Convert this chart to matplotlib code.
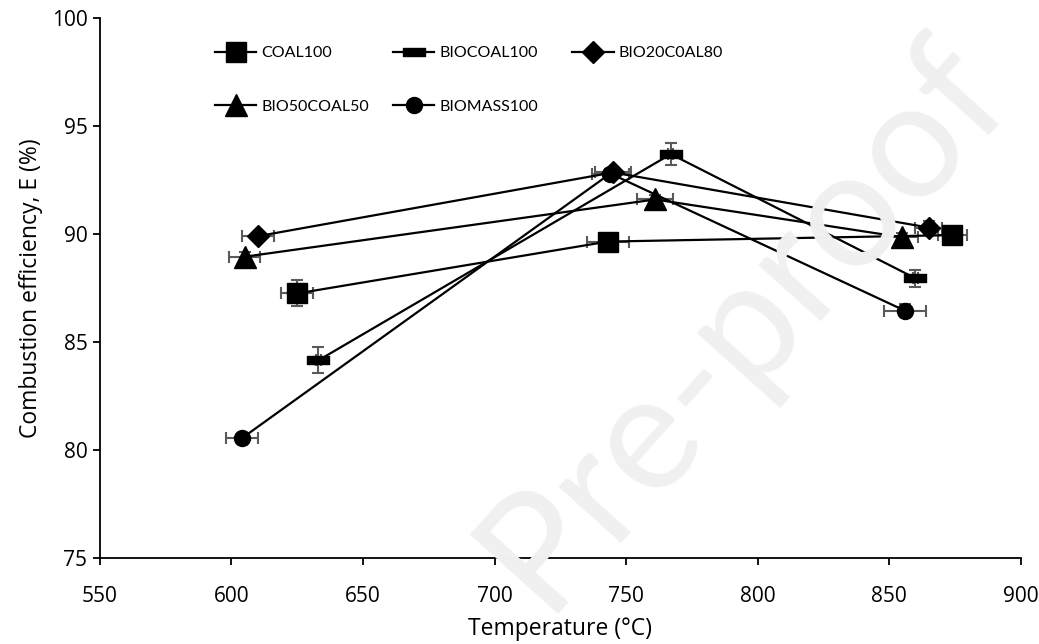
import matplotlib
matplotlib.use("Agg")
import matplotlib.pyplot as plt
from matplotlib.path import Path
from matplotlib.legend import Legend

plt.rcParams['font.family'] = ['Open Sans', 'DejaVu Sans']

# === Data ===
coal_t = [625, 743, 874]
coal_e = [87.25, 89.65, 89.95]
coal_xerr = [6, 8, 5.5]
coal_yerr = [0.6, 0.15, 0.2]

biocoal_t = [633, 767, 860]
biocoal_e = [84.15, 93.7, 87.95]
biocoal_xerr = [1, 1, 1]
biocoal_yerr = [0.6, 0.5, 0.4]

bio20_t = [610, 745, 865]
bio20_e = [89.9, 92.85, 90.3]
bio20_xerr = [6, 7, 5]
bio20_yerr = [0.2, 0.2, 0.3]

bio50_t = [605, 761, 855]
bio50_e = [88.95, 91.6, 89.85]
bio50_xerr = [6, 7, 6]
bio50_yerr = [0.2, 0.2, 0.2]

biomass_t = [604, 744, 856]
biomass_e = [80.55, 92.8, 86.45]
biomass_xerr = [6, 7, 8]
biomass_yerr = [0.15, 0.2, 0.3]

x_ticks = [550, 600, 650, 700, 750, 800, 850, 900]
y_ticks = [75, 80, 85, 90, 95, 100]

# horizontal bar marker for BIOCOAL100
bar_marker = Path([(-1, -0.33), (1, -0.33), (1, 0.33), (-1, 0.33), (-1, -0.33)],
                  [Path.MOVETO, Path.LINETO, Path.LINETO, Path.LINETO, Path.CLOSEPOLY])

series = [
    ("COAL100", coal_t, coal_e, coal_xerr, coal_yerr, 's', 15),
    ("BIOCOAL100", biocoal_t, biocoal_e, biocoal_xerr, biocoal_yerr, bar_marker, 16.5),
    ("BIO20C0AL80", bio20_t, bio20_e, bio20_xerr, bio20_yerr, 'D', 11.5),
    ("BIO50COAL50", bio50_t, bio50_e, bio50_xerr, bio50_yerr, '^', 16),
    ("BIOMASS100", biomass_t, biomass_e, biomass_xerr, biomass_yerr, 'o', 11.5),
]

fig = plt.figure(figsize=(10.39, 6.44), dpi=100)
ax = fig.add_axes([0.0962, 0.1335, 0.8862, 0.8385])
ax.patch.set_alpha(0)

# watermark
fig.text(0.715, 0.50, "Pre-proof", rotation=48, fontsize=118, color='#f0f0f0',
         ha='center', va='center', zorder=0, family='Lato')

handles = {}
for name, t, e, xe, ye, mk, ms in series:
    ax.errorbar(t, e, xerr=xe, yerr=ye, fmt='none', ecolor='#5a5a5a',
                elinewidth=1.5, capsize=4.5, capthick=1.5, zorder=2)
    ln, = ax.plot(t, e, color='black', linewidth=1.6, marker=mk, markersize=ms,
                  markerfacecolor='black', markeredgecolor='black', zorder=3)
    handles[name] = ln

ax.set_xlim(550, 900)
ax.set_ylim(75, 100)
ax.set_xticks(x_ticks)
ax.set_yticks(y_ticks)
ax.tick_params(axis='both', direction='out', length=5, width=1.3, labelsize=15)
ax.tick_params(axis='x', pad=15)
ax.tick_params(axis='y', pad=4)
for s in ['top', 'right']:
    ax.spines[s].set_visible(False)
for s in ['left', 'bottom']:
    ax.spines[s].set_linewidth(1.3)

ax.set_xlabel("Temperature (°C)", fontsize=16.5, labelpad=7)
ax.set_ylabel("Combustion efficiency, E (%)", fontsize=16.5, labelpad=6)

# Excel-style legend: three equal-width columns
columns = [["COAL100", "BIO50COAL50"], ["BIOCOAL100", "BIOMASS100"], ["BIO20C0AL80"]]
col_x = [0.1249, 0.3182, 0.5127]
for names_col, cx in zip(columns, col_x):
    leg = Legend(ax, [handles[n] for n in names_col], names_col, loc='upper left',
                 bbox_to_anchor=(cx, 0.948), frameon=False,
                 prop={'family': 'Lato', 'size': 11.5},
                 handlelength=2.6, handletextpad=0.3, labelspacing=2.45,
                 borderaxespad=0, borderpad=0)
    ax.add_artist(leg)

fig.savefig("out.png", dpi=100)
